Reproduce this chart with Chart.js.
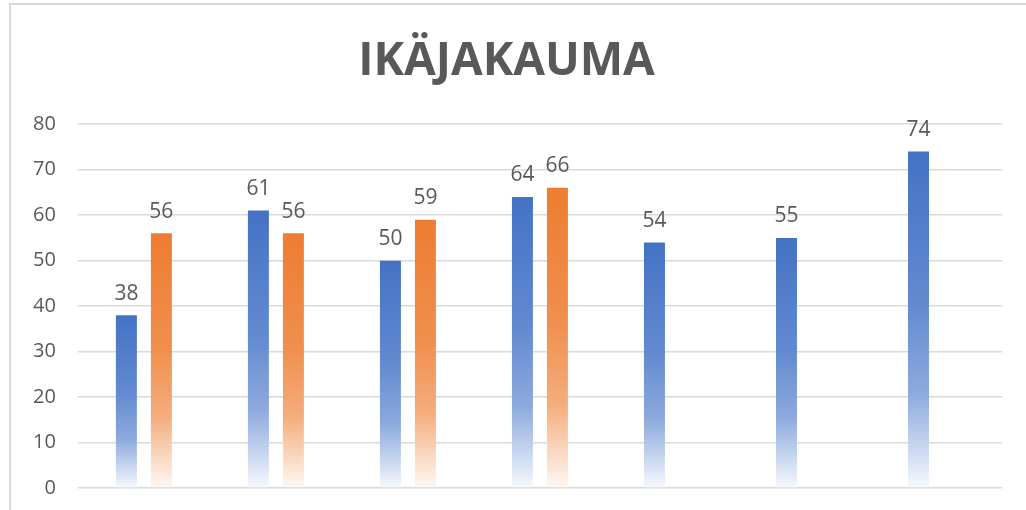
<!DOCTYPE html>
<html>
<head>
<meta charset="utf-8">
<script src="https://cdn.jsdelivr.net/npm/chart.js@4.4.1/dist/chart.umd.min.js"></script>
<style>
  html, body { margin: 0; padding: 0; background: #ffffff; overflow: hidden; }
  #frame { position: absolute; left: 9px; top: 3px; width: 1040px; height: 530px; border: 2px solid #d9d9d9; box-sizing: border-box; }
  #wrap { position: absolute; left: 0; top: 0; width: 1026px; height: 510px; }
</style>
</head>
<body>
<div id="frame"></div>
<div id="wrap"><canvas id="c" width="1026" height="510"></canvas></div>
<script>
const titleText = "IKÄJAKAUMA";
const categories = ["1", "2", "3", "4", "5", "6", "7"];
const seriesBlue = [38, 61, 50, 64, 54, 55, 74];
const seriesOrange = [56, 56, 59, 66, null, null, null];
const yTicks = [0, 10, 20, 30, 40, 50, 60, 70, 80];

function gradientFor(stops) {
  return function (ctx) {
    const chart = ctx.chart;
    const area = chart.chartArea;
    if (!area) return stops[0][1];
    const v = ctx.raw;
    if (v == null) return stops[0][1];
    const y = chart.scales.y;
    const top = y.getPixelForValue(v);
    const base = y.getPixelForValue(0);
    const g = chart.ctx.createLinearGradient(0, top, 0, base);
    stops.forEach(s => g.addColorStop(s[0], s[1]));
    return g;
  };
}

const blueStops = [[0, "#4472c4"], [0.45, "#628ad0"], [0.72, "#8eaadd"], [0.87, "#c5d4ef"], [1, "#f7f9fd"]];
const orangeStops = [[0, "#ed7d31"], [0.45, "#f08f4e"], [0.72, "#f4ad7c"], [0.87, "#f9d6bd"], [1, "#fef8f4"]];

const labelPlugin = {
  id: "valueLabels",
  afterDatasetsDraw(chart) {
    const ctx = chart.ctx;
    ctx.save();
    ctx.font = "21px 'Open Sans', sans-serif";
    ctx.fillStyle = "#595959";
    ctx.textAlign = "center";
    ctx.textBaseline = "bottom";
    chart.data.datasets.forEach((ds, i) => {
      const meta = chart.getDatasetMeta(i);
      meta.data.forEach((el, j) => {
        const v = ds.data[j];
        if (v == null) return;
        ctx.fillText(String(v), el.x, el.y - 11);
      });
    });
    ctx.restore();
  }
};

new Chart(document.getElementById("c"), {
  type: "bar",
  data: {
    labels: categories,
    datasets: [
      { data: seriesBlue, backgroundColor: gradientFor(blueStops), categoryPercentage: 0.53, barPercentage: 0.6 },
      { data: seriesOrange, backgroundColor: gradientFor(orangeStops), categoryPercentage: 0.53, barPercentage: 0.6 }
    ]
  },
  options: {
    responsive: false,
    maintainAspectRatio: false,
    animation: false,
    devicePixelRatio: 1,
    layout: { padding: { left: 11, right: 24, top: 0, bottom: 22 } },
    plugins: {
      legend: { display: false },
      tooltip: { enabled: false },
      title: {
        display: true,
        text: titleText,
        color: "#595959",
        font: { family: "'Open Sans', sans-serif", size: 46, weight: "bold" },
        padding: { top: 34, bottom: 35 }
      }
    },
    scales: {
      x: { display: false },
      y: {
        min: 0, max: 80,
        afterBuildTicks(axis) { axis.ticks = yTicks.map(v => ({ value: v })); },
        afterFit(axis) { axis.paddingTop = 0; axis.paddingBottom = 0; },
        border: { display: false },
        grid: { color: "#d9d9d9", lineWidth: 1.5, drawTicks: false },
        ticks: { color: "#595959", padding: 22, font: { family: "'Open Sans', sans-serif", size: 20 } }
      }
    }
  },
  plugins: [labelPlugin]
});
</script>
</body>
</html>
